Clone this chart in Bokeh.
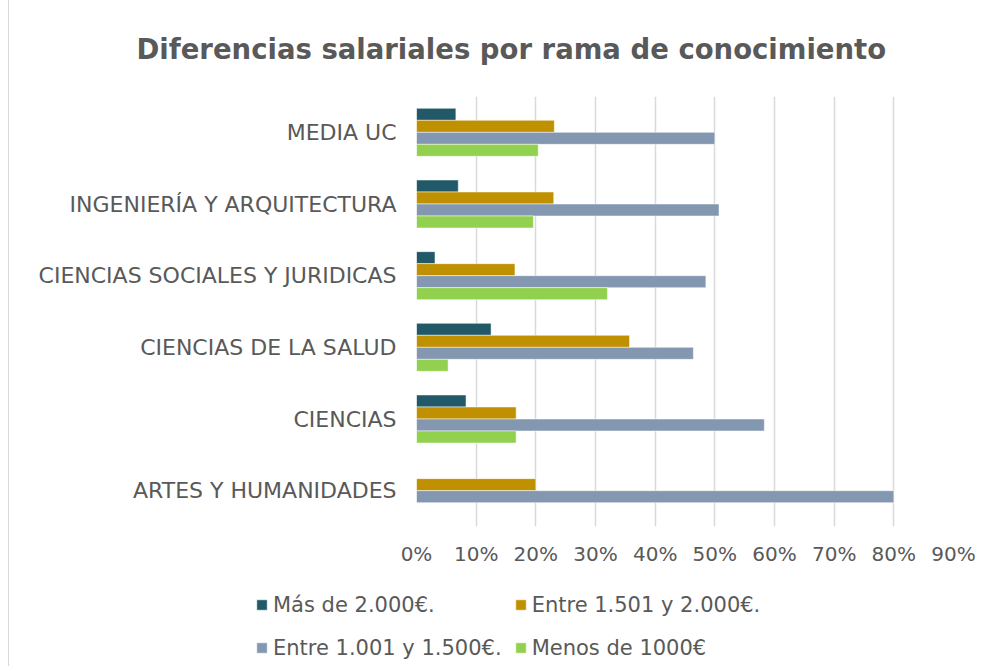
from bokeh.plotting import figure
from bokeh.models import FactorRange, FixedTicker, NumeralTickFormatter, Legend, LegendItem, ColumnDataSource
from bokeh.transform import dodge
from bokeh.embed import file_html
from bokeh.resources import INLINE

categories = ["MEDIA UC", "INGENIERÍA Y ARQUITECTURA", "CIENCIAS SOCIALES Y JURIDICAS",
              "CIENCIAS DE LA SALUD", "CIENCIAS", "ARTES Y HUMANIDADES"]
series_names = ["Más de 2.000€.", "Entre 1.501 y 2.000€.", "Entre 1.001 y 1.500€.", "Menos de 1000€"]
mas_2000 = [0.066, 0.070, 0.031, 0.125, 0.083, 0.0]
entre_1501_2000 = [0.231, 0.230, 0.165, 0.357, 0.167, 0.200]
entre_1001_1500 = [0.500, 0.507, 0.485, 0.464, 0.583, 0.800]
menos_1000 = [0.204, 0.196, 0.320, 0.053, 0.167, 0.0]
x_ticks = [0, 0.1, 0.2, 0.3, 0.4, 0.5, 0.6, 0.7, 0.8, 0.9]

colors = ["#215968", "#BF9000", "#8497B0", "#92D050"]
offsets = [0.251, 0.084, -0.084, -0.251]
TXT = "#595959"
FONT = "DejaVu Sans"
LINE = "#D9D9D9"
BORDER = "1px solid " + LINE

src = ColumnDataSource(dict(cat=categories, s0=mas_2000, s1=entre_1501_2000,
                            s2=entre_1001_1500, s3=menos_1000))

# thin top border line of the chart box
p0 = figure(width=980, height=1, output_backend="svg", toolbar_location=None,
            x_range=(0, 1), y_range=(0, 1), min_border=0,
            x_axis_location=None, y_axis_location=None)
p0.styles = {"margin": "8px 0 0 8px"}
p0.grid.grid_line_color = None
p0.outline_line_color = None
p0.background_fill_color = LINE
p0.border_fill_color = LINE

p = figure(output_backend="svg", toolbar_location=None,
           y_range=FactorRange(*list(reversed(categories))), x_range=(0, 0.9),
           frame_width=537, frame_height=430,
           min_border_left=407, min_border_right=34, min_border_top=88, min_border_bottom=50)
p.styles = {"margin": "-10px 0 0 8px", "border-left": BORDER}
p.border_fill_alpha = 0

p.title.text = "Diferencias salariales por rama de conocimiento"
p.title.align = "left"
p.title.offset = -280
p.title.text_font = FONT
p.title.text_font_size = "27.5px"
p.title.text_font_style = "bold"
p.title.text_color = TXT
p.title.standoff = 63

for i, key in enumerate(["s0", "s1", "s2", "s3"]):
    p.hbar(y=dodge("cat", offsets[i], range=p.y_range), right=key, left=0, height=0.1676,
           source=src, fill_color=colors[i], line_color="white", line_width=0.5)

p.xaxis.ticker = FixedTicker(ticks=x_ticks)
p.xaxis.formatter = NumeralTickFormatter(format="0%")
p.xaxis.axis_line_color = None
p.xaxis.major_tick_line_color = None
p.xaxis.minor_tick_line_color = None
p.xaxis.major_tick_out = 0
p.xaxis.major_tick_in = 0
p.xaxis.major_label_text_font = FONT
p.xaxis.major_label_text_font_size = "20px"
p.xaxis.major_label_text_color = TXT
p.xaxis.major_label_standoff = 15

p.yaxis.axis_line_color = None
p.yaxis.major_tick_line_color = None
p.yaxis.minor_tick_line_color = None
p.yaxis.major_tick_out = 0
p.yaxis.major_tick_in = 0
p.yaxis.major_label_text_font = FONT
p.yaxis.major_label_text_font_size = "22px"
p.yaxis.major_label_text_color = TXT
p.yaxis.major_label_standoff = 20

p.ygrid.grid_line_color = None
p.xgrid.grid_line_color = LINE
p.xgrid.grid_line_width = 1.5
p.outline_line_color = None

# legend strip below the chart (separate root so its frame is not aligned to the chart)
p2 = figure(width=979, height=90, output_backend="svg", toolbar_location=None,
            x_range=(0, 1), y_range=(0, 1), min_border=0,
            x_axis_location=None, y_axis_location=None)
p2.styles = {"margin": "0 0 0 8px", "border-left": BORDER}
p2.grid.grid_line_color = None
p2.outline_line_color = None
dummies = []
for i in range(4):
    dummies.append(p2.hbar(y=[5], right=[5], left=[4], height=0.1,
                           fill_color=colors[i], line_color="white", line_width=0.5))

legend = Legend(items=[LegendItem(label=series_names[i], renderers=[dummies[i]]) for i in range(4)],
                location=(246, 3), orientation="horizontal", ncols=2)
legend.label_text_font = FONT
legend.label_text_font_size = "21px"
legend.label_text_color = TXT
legend.glyph_width = 13
legend.glyph_height = 13
legend.label_standoff = 5
legend.label_height = 31
legend.spacing = 12
legend.border_line_color = None
legend.background_fill_alpha = 0
legend.margin = 0
legend.padding = 0
p2.add_layout(legend, "center")

open("out.html", "w").write(file_html([p0, p, p2], INLINE))
